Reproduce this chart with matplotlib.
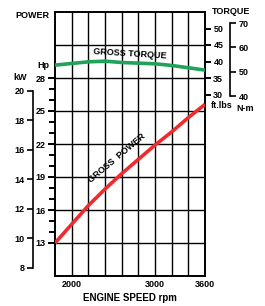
import numpy as np
import matplotlib.pyplot as plt

plt.rcParams['font.family'] = ['Liberation Sans', 'DejaVu Sans']
plt.rcParams['font.weight'] = 'bold'

# engine speed (rpm)
rpm = [1800, 2000, 2200, 2400, 2600, 2800, 3000, 3200, 3400, 3600]
# gross power (Hp)
power_hp = [13.0, 14.7, 16.4, 17.9, 19.3, 20.6, 21.9, 23.1, 24.4, 25.6]
# gross torque (ft.lbs)
torque_ftlb = [38.9, 39.4, 39.9, 40.1, 39.7, 39.5, 39.3, 38.8, 38.1, 37.4]

x_ticks = [2000, 3000, 3600]
hp_ticks = [13, 16, 19, 22, 25, 28]
kw_ticks = [8, 10, 12, 14, 16, 18, 20]
ftlb_ticks = [30, 35, 40, 45, 50]
nm_ticks = [40, 50, 60, 70]

HP_PER_KW = 1 / 0.7457
NM_PER_FTLB = 1.3558


def hp2ft(h):
    return 35 + (np.asarray(h) - 28) * 10 / 3


def ft2hp(t):
    return 28 + (np.asarray(t) - 35) * 3 / 10


def hp2kw(h):
    return np.asarray(h) / HP_PER_KW


def kw2hp(k):
    return np.asarray(k) * HP_PER_KW


def hp2nm(h):
    return hp2ft(h) * NM_PER_FTLB


def nm2hp(n):
    return ft2hp(np.asarray(n) / NM_PER_FTLB)


fig = plt.figure(figsize=(2.65, 3.06), dpi=100)
ax = fig.add_axes([55 / 265, 1 - 276 / 306, 150 / 265, 264 / 306])
ax.set_xlim(1800, 3600)
ax.set_ylim(10, 34)

# grid
for gx in np.arange(2000, 3600, 200):
    ax.axvline(gx, color='black', lw=1.0, zorder=1)
for gy in np.arange(13, 34, 3):
    ax.axhline(gy, color='black', lw=1.0, zorder=1)
for s in ax.spines.values():
    s.set_linewidth(1.4)

ax.plot(rpm, power_hp, color='#ee2b2f', lw=2.6, zorder=3, solid_capstyle='butt')
ax.plot(rpm, ft2hp(torque_ftlb), color='#1fa35a', lw=2.6, zorder=3, solid_capstyle='butt')

ax.text(2700, 30.2, 'GROSS TORQUE', fontsize=6.5, ha='center', va='center',
        rotation=-3.5, zorder=4)
ax.text(2540, 20.7, 'GROSS  POWER', fontsize=6.5, ha='center', va='center',
        rotation=40, zorder=4)

# x axis
ax.set_xticks(x_ticks)
ax.set_xticklabels([str(v) for v in x_ticks])
ax.tick_params(axis='x', length=0, pad=3, labelsize=6.5)
ax.set_xlabel('ENGINE SPEED rpm', fontsize=7, fontweight='bold', labelpad=3)

# Hp axis
ax.set_yticks(hp_ticks)
ax.set_yticks(np.arange(13, 29, 1), minor=True)
ax.tick_params(axis='y', which='major', length=5, width=1.4, pad=2, labelsize=6.5)
ax.tick_params(axis='y', which='minor', length=4, width=1.4)

# kW axis
kw = ax.secondary_yaxis(-0.147, functions=(hp2kw, kw2hp))
kw.set_yticks(kw_ticks)
kw.spines['left'].set_bounds(8, 20)
kw.spines['left'].set_linewidth(1.2)
kw.tick_params(length=4, width=1.2, pad=2, labelsize=6.5)

# ft.lbs axis
ft = ax.secondary_yaxis('right', functions=(hp2ft, ft2hp))
ft.set_yticks(ftlb_ticks)
ft.spines['right'].set_visible(False)
ft.tick_params(length=4, width=1.4, pad=2, labelsize=6.5)

# N-m axis
nm = ax.secondary_yaxis(1.167, functions=(hp2nm, nm2hp))
nm.set_yticks(nm_ticks)
nm.spines['right'].set_bounds(40, 70)
nm.spines['right'].set_linewidth(1.2)
nm.tick_params(length=4, width=1.2, pad=2, labelsize=6.5)

# axis titles
fig.text(15 / 265, 1 - 16 / 306, 'POWER', fontsize=6.5, va='center', ha='left')
fig.text(212 / 265, 1 - 12 / 306, 'TORQUE', fontsize=6.5, va='center', ha='left')
fig.text(37 / 265, 1 - 66 / 306, 'Hp', fontsize=6.5, va='center', ha='left')
fig.text(13 / 265, 1 - 77 / 306, 'kW', fontsize=6.5, va='center', ha='left')
fig.text(211 / 265, 1 - 106 / 306, 'ft.lbs', fontsize=6.5, va='center', ha='left')
fig.text(236 / 265, 1 - 108 / 306, 'N-m', fontsize=6.5, va='center', ha='left')

fig.savefig('out.png', dpi=100)
